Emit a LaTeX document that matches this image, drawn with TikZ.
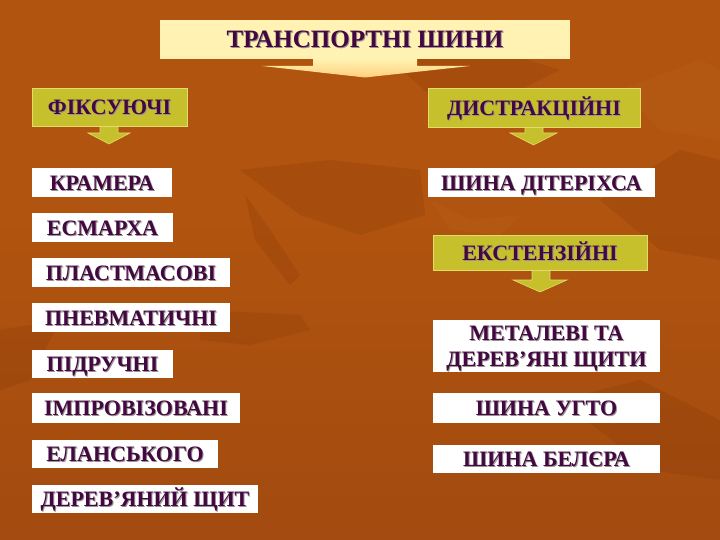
\documentclass[tikz,border=0pt]{standalone}
\usepackage{fontspec}
\setmainfont{Liberation Serif}
\definecolor{bgT}{HTML}{7A360A}
\definecolor{bgM}{HTML}{B0540F}
\definecolor{bgM2}{HTML}{9C4610}
\definecolor{bgB}{HTML}{6A2A08}
\definecolor{txt}{HTML}{430842}
\definecolor{shadowc}{HTML}{9A9490}
\definecolor{olive}{HTML}{C6C02C}
\definecolor{oliveline}{HTML}{E2DC6A}
\definecolor{cream}{HTML}{FFF2B2}
\definecolor{leafdark}{HTML}{7A3008}
\definecolor{leaflight}{HTML}{D07A2A}
\pgfdeclareverticalshading{bgsh}{100bp}{color(0bp)=(bgB); color(10bp)=(bgM2); color(55bp)=(bgM); color(90bp)=(bgM); color(100bp)=(bgT)}
\newcommand\shd[1]{\rlap{\kern1pt\raisebox{-1pt}{\color{shadowc}#1}}#1}
\tikzset{
  lbl/.style={text=txt, font=\bfseries\fontsize{22}{25}\selectfont, text height=15.5pt, text depth=0pt},
  whitebox/.style={fill=white, draw=none, inner sep=0pt, lbl},
  olivebox/.style={fill=olive, draw=oliveline, line width=0.8pt, inner sep=0pt, lbl},
  titlebox/.style={fill=cream, draw=none, inner sep=0pt, text=txt, font=\bfseries\fontsize{25}{29}\selectfont, text height=17pt, text depth=0pt},
  arrowshape/.style={fill=olive, draw=oliveline, line width=0.6pt},
  leaf/.style={fill=leafdark, opacity=0.18, draw=none}
}
\begin{document}
\begin{tikzpicture}[x=1pt,y=-1pt]
\useasboundingbox (0,0) rectangle (720,540);
\shade[shading=bgsh] (0,0) rectangle (720,540);
% background leaves
\fill[leaf] (240,170) -- (330,160) -- (420,170) -- (425,215) -- (360,235) -- (300,215) -- cycle;
\fill[leaf] (245,195) -- (270,230) -- (300,275) -- (290,285) -- (255,240) -- cycle;
\fill[leaf] (200,310) -- (300,315) -- (310,330) -- (250,345) -- (200,340) -- cycle;
\fill[leaf] (390,60) -- (480,45) -- (560,70) -- (500,100) -- (430,95) -- cycle;
\fill[leaf] (600,200) -- (680,150) -- (720,160) -- (720,260) -- (660,250) -- cycle;
\fill[leaf] (0,330) -- (60,320) -- (30,380) -- (0,390) -- cycle;
\fill[leaf] (560,400) -- (640,380) -- (720,420) -- (720,480) -- (650,470) -- cycle;
\fill[leaflight, opacity=0.12] (620,90) -- (700,60) -- (720,70) -- (720,140) -- (660,130) -- cycle;
\fill[leaflight, opacity=0.12] (430,200) -- (470,220) -- (520,215) -- (500,235) -- (450,230) -- cycle;

% title
\node[titlebox, minimum width=410pt, minimum height=39pt] (title) at (365,39.5) {\shd{ТРАНСПОРТНІ ШИНИ}};
\shade[top color=cream, bottom color=cream!70!orange] (313,59) -- (417,59) -- (417,66) -- (470,66) -- (365,77.5) -- (262,66) -- (313,66) -- cycle;

% left column
\node[olivebox, minimum width=155pt, minimum height=38pt] (fix) at (109.5,107) {\shd{ФІКСУЮЧІ}};
\path[arrowshape] (100,126.5) -- (118,126.5) -- (118,133) -- (130,133) -- (109,144) -- (88,133) -- (100,133) -- cycle;
\node[whitebox, minimum width=140pt, minimum height=29pt] (kramer) at (102,182.5) {\shd{КРАМЕРА}};
\node[whitebox, minimum width=141pt, minimum height=29pt] (esm) at (102.5,227.5) {\shd{ЕСМАРХА}};
\node[whitebox, minimum width=198pt, minimum height=29pt] (plast) at (131,272.5) {\shd{ПЛАСТМАСОВІ}};
\node[whitebox, minimum width=198pt, minimum height=29pt] (pnev) at (131,317.5) {\shd{ПНЕВМАТИЧНІ}};
\node[whitebox, minimum width=141pt, minimum height=28pt] (pidr) at (102.5,364) {\shd{ПІДРУЧНІ}};
\node[whitebox, minimum width=208pt, minimum height=30pt] (impr) at (136,408) {\shd{ІМПРОВІЗОВАНІ}};
\node[whitebox, minimum width=186pt, minimum height=28pt] (elan) at (125,454) {\shd{ЕЛАНСЬКОГО}};
\node[whitebox, minimum width=226pt, minimum height=28pt] (derev) at (145,499) {\shd{ДЕРЕВ’ЯНИЙ ЩИТ}};

% right column
\node[olivebox, minimum width=212pt, minimum height=39pt] (dist) at (534,107.5) {\shd{ДИСТРАКЦІЙНІ}};
\path[arrowshape] (525,127.5) -- (543,127.5) -- (543,133) -- (557,133) -- (533.5,145) -- (510,133) -- (525,133) -- cycle;
\node[whitebox, minimum width=227pt, minimum height=29pt] (diter) at (541.5,182.5) {\shd{ШИНА ДІТЕРІХСА}};
\node[olivebox, minimum width=214pt, minimum height=35pt] (ext) at (540,252.5) {\shd{ЕКСТЕНЗІЙНІ}};
\path[arrowshape] (532,270.5) -- (550,270.5) -- (550,280) -- (567,280) -- (540,292) -- (513,280) -- (532,280) -- cycle;
\node[whitebox, minimum width=227pt, minimum height=52pt] (metal) at (546.5,346) {};
\node[lbl, inner sep=0pt, anchor=base] (metalA) at (546.5,340) {\shd{МЕТАЛЕВІ ТА}};
\node[lbl, inner sep=0pt, anchor=base] (metalB) at (546.5,366) {\shd{ДЕРЕВ’ЯНІ ЩИТИ}};
\node[whitebox, minimum width=227pt, minimum height=30pt] (ugto) at (546.5,408) {\shd{ШИНА УГТО}};
\node[whitebox, minimum width=227pt, minimum height=28pt] (beler) at (546.5,459) {\shd{ШИНА БЕЛЄРА}};
\end{tikzpicture}
\end{document}
